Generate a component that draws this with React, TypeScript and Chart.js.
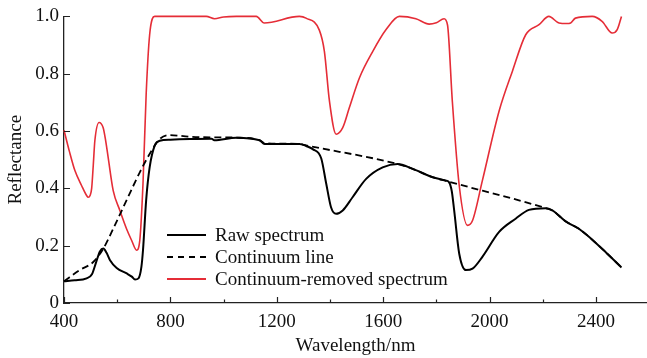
import React, { useEffect, useRef } from "react";
import { Chart, registerables } from "chart.js";

Chart.register(...registerables);

const rawWl = [400, 440, 485, 505, 520, 535, 548, 560, 573, 598, 636, 655, 667, 680, 691, 697, 709, 722, 741, 760, 800, 873, 955, 965, 1048, 1135, 1154, 1285, 1310, 1335, 1367, 1386, 1404, 1423, 1448, 1485, 1536, 1598, 1654, 1711, 1786, 1836, 1848, 1858, 1867, 1886, 1911, 1936, 1973, 2036, 2098, 2148, 2211, 2236, 2286, 2336, 2386, 2436, 2496];
const rawRefl = [0.076, 0.079, 0.086, 0.1, 0.14, 0.18, 0.19, 0.175, 0.149, 0.122, 0.103, 0.092, 0.082, 0.086, 0.126, 0.184, 0.36, 0.473, 0.549, 0.566, 0.57, 0.572, 0.573, 0.568, 0.577, 0.568, 0.555, 0.555, 0.548, 0.537, 0.505, 0.416, 0.334, 0.311, 0.323, 0.369, 0.433, 0.473, 0.485, 0.468, 0.439, 0.427, 0.421, 0.39, 0.323, 0.172, 0.115, 0.12, 0.161, 0.248, 0.294, 0.325, 0.331, 0.323, 0.285, 0.259, 0.221, 0.178, 0.124];

const contWl = [400, 459, 510, 548, 585, 635, 685, 722, 760, 797, 873, 960, 1048, 1135, 1154, 1285, 1310, 1654, 1711, 1786, 1840, 2211, 2236, 2286, 2336, 2386, 2436, 2496];
const contRefl = [0.076, 0.115, 0.143, 0.19, 0.259, 0.358, 0.456, 0.52, 0.572, 0.586, 0.58, 0.578, 0.577, 0.568, 0.558, 0.555, 0.55, 0.485, 0.468, 0.439, 0.425, 0.331, 0.323, 0.285, 0.259, 0.221, 0.178, 0.124];

const crWl = [400, 420, 441, 466, 485, 491, 498, 504, 510, 516, 532, 547, 556, 566, 585, 610, 635, 654, 673, 685, 697, 709, 722, 741, 935, 966, 1000, 1048, 1123, 1153, 1285, 1310, 1360, 1379, 1398, 1423, 1448, 1473, 1511, 1561, 1611, 1661, 1723, 1773, 1800, 1829, 1842, 1860, 1886, 1917, 1936, 1973, 2036, 2086, 2136, 2186, 2223, 2261, 2290, 2305, 2323, 2386, 2423, 2461, 2480, 2496];
const crRefl = [0.603, 0.53, 0.462, 0.41, 0.375, 0.369, 0.375, 0.4, 0.48, 0.566, 0.63, 0.612, 0.57, 0.508, 0.392, 0.323, 0.259, 0.219, 0.184, 0.219, 0.416, 0.73, 0.936, 1.0, 1.0, 0.992, 0.998, 1.0, 1.0, 0.977, 1.0, 0.994, 0.952, 0.878, 0.705, 0.589, 0.612, 0.682, 0.786, 0.878, 0.954, 1.0, 0.992, 0.973, 0.978, 0.992, 0.97, 0.705, 0.41, 0.271, 0.288, 0.427, 0.67, 0.809, 0.936, 0.971, 1.0, 0.977, 0.975, 0.977, 0.994, 1.0, 0.983, 0.942, 0.954, 1.0];

const xTickValues = [400, 600, 800, 1000, 1200, 1400, 1600, 1800, 2000, 2200, 2400];
const yTickValues = [0, 0.2, 0.4, 0.6, 0.8, 1.0];

const seriesNames = ["Raw spectrum", "Continuum line", "Continuum-removed spectrum"];

const FONT = "'Liberation Serif', 'Times New Roman', serif";
const RED = "rgb(229,45,55)";
const AXIS = "#222";

const toPts = (xs: number[], ys: number[]) => xs.map((x, i) => ({ x, y: ys[i] }));

const innerTicks = {
  id: "innerTicks",
  afterDraw(chart: any) {
    const { ctx, scales } = chart;
    const xs = scales.x;
    const ys = scales.y;
    ctx.save();
    ctx.strokeStyle = AXIS;
    ctx.lineWidth = 1.2;
    ctx.beginPath();
    xTickValues.forEach((v) => {
      const px = Math.round(xs.getPixelForValue(v)) + 0.5;
      const len = v % 400 === 0 ? 6 : 3.5;
      ctx.moveTo(px, ys.bottom);
      ctx.lineTo(px, ys.bottom - len);
    });
    yTickValues.forEach((v) => {
      const py = Math.round(ys.getPixelForValue(v)) + 0.5;
      ctx.moveTo(xs.left, py);
      ctx.lineTo(xs.left + 6, py);
    });
    ctx.stroke();
    ctx.restore();
  },
};

export default function App() {
  const ref = useRef<HTMLCanvasElement | null>(null);

  useEffect(() => {
    document.body.style.margin = "0";
    const canvas = ref.current;
    if (!canvas) return;
    const chart = new Chart(canvas, {
      type: "line",
      data: {
        datasets: [
          {
            label: seriesNames[0],
            data: toPts(rawWl, rawRefl),
            borderColor: "#000",
            borderWidth: 2,
            pointRadius: 0,
            cubicInterpolationMode: "monotone",
            clip: 5,
          },
          {
            label: seriesNames[1],
            data: toPts(contWl, contRefl),
            borderColor: "#000",
            borderWidth: 1.8,
            borderDash: [7, 4],
            pointRadius: 0,
            cubicInterpolationMode: "monotone",
            clip: 5,
          },
          {
            label: seriesNames[2],
            data: toPts(crWl, crRefl),
            borderColor: RED,
            borderWidth: 1.6,
            pointRadius: 0,
            cubicInterpolationMode: "monotone",
            clip: 5,
          },
        ],
      },
      options: {
        responsive: false,
        animation: false,
        events: [],
        layout: { padding: { left: 0, right: 0, top: 15, bottom: 0 } },
        plugins: { legend: { display: false }, tooltip: { enabled: false } },
        scales: {
          x: {
            type: "linear",
            min: 400,
            max: 2592,
            afterBuildTicks: (s: any) => {
              s.ticks = xTickValues.map((v) => ({ value: v }));
            },
            afterFit: (s: any) => {
              s.height = 55;
            },
            grid: { display: false, drawTicks: false },
            border: { display: true, color: AXIS, width: 1.3 },
            ticks: {
              autoSkip: false,
              maxRotation: 0,
              padding: 8,
              color: "#111",
              font: { family: FONT, size: 19 },
              callback: (v: any) => (Number(v) % 400 === 0 ? String(v) : ""),
            },
            title: {
              display: true,
              text: "Wavelength/nm",
              color: "#111",
              font: { family: FONT, size: 19 },
              padding: { top: 0, bottom: 1 },
            },
          },
          y: {
            type: "linear",
            min: 0,
            max: 1,
            afterBuildTicks: (s: any) => {
              s.ticks = yTickValues.map((v) => ({ value: v }));
            },
            afterFit: (s: any) => {
              s.width = 64;
            },
            grid: { display: false, drawTicks: false },
            border: { display: true, color: AXIS, width: 1.3 },
            ticks: {
              padding: 5,
              color: "#111",
              font: { family: FONT, size: 19 },
              callback: (v: any) => (Number(v) === 0 ? "0" : Number(v).toFixed(1)),
            },
            title: {
              display: true,
              text: "Reflectance",
              color: "#111",
              font: { family: FONT, size: 19 },
              padding: { top: 5, bottom: 0 },
            },
          },
        },
      },
      plugins: [innerTicks],
    } as any);
    return () => chart.destroy();
  }, []);

  const rowTop = [235, 257, 279];
  const legendStyles = [
    { borderTop: "2px solid #000" },
    { borderTop: "2px dashed #000" },
    { borderTop: `2px solid ${RED}` },
  ];

  return (
    <div style={{ position: "relative", width: 647, height: 358 }}>
      <canvas ref={ref} width={647} height={358} style={{ display: "block" }} />
      {seriesNames.map((name, i) => (
        <div
          key={name}
          style={{
            position: "absolute",
            left: 167,
            top: rowTop[i] - 12,
            height: 24,
            display: "flex",
            alignItems: "center",
            fontFamily: FONT,
            fontSize: 19,
            color: "#111",
            whiteSpace: "nowrap",
          }}
        >
          <span style={{ display: "inline-block", width: 39, height: 0, ...legendStyles[i] }} />
          <span style={{ marginLeft: 9 }}>{name}</span>
        </div>
      ))}
    </div>
  );
}
